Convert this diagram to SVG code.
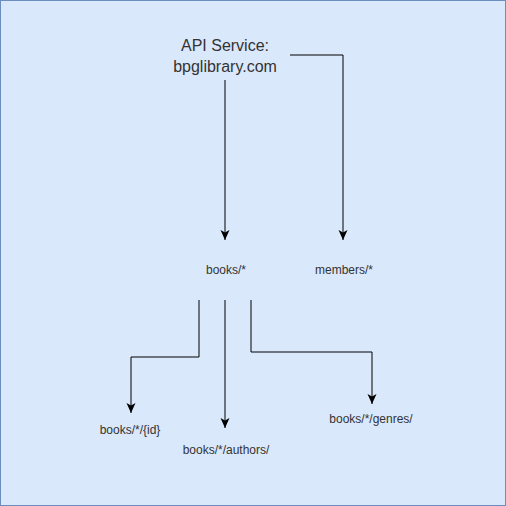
<svg xmlns="http://www.w3.org/2000/svg" width="506" height="506" viewBox="0 0 506 506">
<style>
.t{font-family:"Liberation Sans",Arial,sans-serif;fill:#333333;text-anchor:middle}
.c{fill:none;stroke:#000000;stroke-width:1}
</style>
<defs>
<marker id="a" markerWidth="12" markerHeight="12" refX="10" refY="4.5" orient="auto" markerUnits="userSpaceOnUse">
<path d="M0,0 L10,4.5 L0,9 L2.5,4.5 Z" fill="#000"/>
</marker>
</defs>
<rect x="0.5" y="0.5" width="505" height="505" fill="#dae8fc" stroke="#6c8ebf"/>
<g id="connectors">
<path class="c" d="M225,80 V240" marker-end="url(#a)"/>
<path class="c" d="M290,55 H343 V240" marker-end="url(#a)"/>
<path class="c" d="M199,300 V357 H131 V413" marker-end="url(#a)"/>
<path class="c" d="M225,300 V428" marker-end="url(#a)"/>
<path class="c" d="M251,300 V352 H372 V404" marker-end="url(#a)"/>
</g>
<g id="api"><text class="t" x="225" y="51" font-size="16">API Service:</text><text class="t" x="225" y="72" font-size="16">bpglibrary.com</text></g>
<g id="books"><text class="t" x="226" y="274" font-size="12">books/*</text></g>
<g id="members"><text class="t" x="344" y="274" font-size="12">members/*</text></g>
<g id="bookid"><text class="t" x="130" y="434" font-size="12">books/*/{id}</text></g>
<g id="authors"><text class="t" x="226" y="454" font-size="12">books/*/authors/</text></g>
<g id="genres"><text class="t" x="371" y="423" font-size="12">books/*/genres/</text></g>
</svg>
